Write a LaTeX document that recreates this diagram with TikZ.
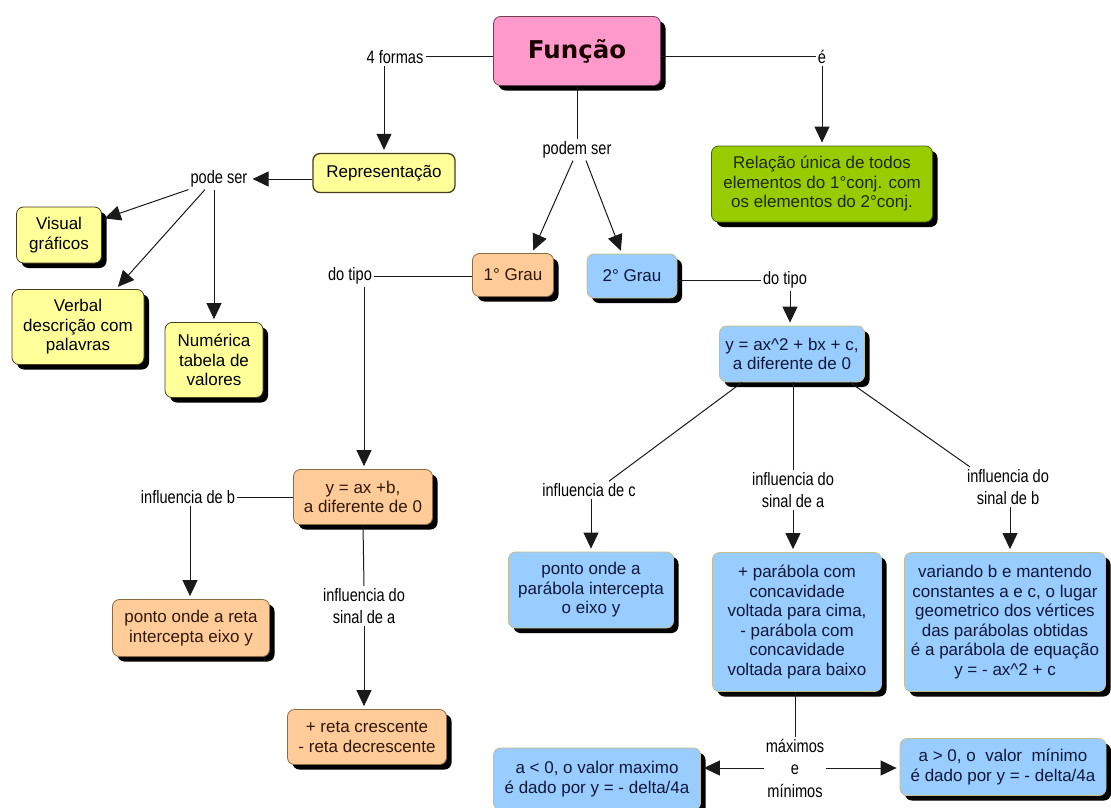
\documentclass[tikz,border=0pt]{standalone}
\usepackage{fontspec}
\setmainfont{Liberation Sans}
\newfontfamily\lblfont[FakeStretch=0.81]{Liberation Sans}
\newfontfamily\titlefont{DejaVu Sans}
\usetikzlibrary{arrows.meta,shadows}
\definecolor{yfill}{HTML}{FFFF99}
\definecolor{ydraw}{HTML}{4A3A20}
\definecolor{ofill}{HTML}{FFCC99}
\definecolor{odraw}{HTML}{8A6A40}
\definecolor{otext}{HTML}{301808}
\definecolor{bfill}{HTML}{99CCFF}
\definecolor{bdraw}{HTML}{C8BE8A}
\definecolor{btext}{HTML}{10183A}
\definecolor{gfill}{HTML}{99CC00}
\definecolor{gdraw}{HTML}{4A6000}
\definecolor{gtext}{HTML}{1E2A00}
\definecolor{pfill}{HTML}{FF99CC}
\definecolor{pdraw}{HTML}{704058}
\definecolor{linec}{HTML}{1A1A1A}
\tikzset{
  box/.style={rounded corners=7pt, align=center, inner sep=2pt, line width=0.8pt,
    font=\fontsize{17}{19.5}\selectfont},
  shad/.style={drop shadow={shadow xshift=5pt,shadow yshift=-5pt,fill=black,opacity=1}},
  ybox/.style={box, shad, fill=yfill, draw=ydraw, text=black},
  obox/.style={box, shad, fill=ofill, draw=odraw, text=otext},
  bbox/.style={box, shad, fill=bfill, draw=bdraw, text=btext},
  gbox/.style={box, shad, fill=gfill, draw=gdraw, text=gtext},
  lbl/.style={font=\lblfont\fontsize{18}{22.5}\selectfont, align=center, inner sep=2pt, text=black},
  con/.style={line width=1pt, draw=linec},
  arr/.style={con, -{Triangle[width=15pt,length=16pt]}, shorten >=3pt},
}
\begin{document}
\begin{tikzpicture}[x=1pt,y=-1pt]
\fill[white] (0,0) rectangle (1111,808);
\useasboundingbox (0,0) rectangle (1111,808);

% boxes
\node[box, shad, fill=pfill, draw=pdraw, minimum width=167pt, minimum height=69pt,
  font=\titlefont\bfseries\fontsize{24.5}{28}\selectfont, text=black!90!red] (fun) at (577,51) {Função};
\node[box, fill=yfill, draw=ydraw, line width=1.3pt, minimum width=142pt, minimum height=39pt] (rep) at (384,173) {Representação};
\node[gbox, minimum width=221pt, minimum height=76pt] (grn) at (822,184)
  {Relação única de todos\\elementos do 1°conj. com\\os elementos do 2°conj.};
\node[ybox, minimum width=85pt, minimum height=56pt] (vis) at (59,235) {Visual\\gráficos};
\node[ybox, minimum width=132pt, minimum height=75pt] (verb) at (78,327) {Verbal\\descrição com\\palavras};
\node[ybox, minimum width=98pt, minimum height=75pt] (num) at (214,360) {Numérica\\tabela de\\valores};
\node[obox, minimum width=81pt, minimum height=43pt] (g1) at (513,275) {1° Grau};
\node[bbox, minimum width=90pt, minimum height=44pt] (g2) at (632,276) {2° Grau};
\node[obox, minimum width=139pt, minimum height=55pt] (eq1) at (363,497) {y = ax +b,\\a diferente de 0};
\node[obox, minimum width=157pt, minimum height=57pt] (reta) at (191,628) {ponto onde a reta\\intercepta eixo y};
\node[obox, minimum width=159pt, minimum height=55pt] (cres) at (367,737) {+ reta crescente\\- reta decrescente};
\node[bbox, minimum width=145pt, minimum height=56pt] (eq2) at (792,354) {y = ax\textasciicircum 2 + bx + c,\\a diferente de 0};
\node[bbox, minimum width=165pt, minimum height=76pt] (pc) at (591,590) {ponto onde a\\parábola intercepta\\o eixo y};
\node[bbox, minimum width=169pt, minimum height=139pt] (pa) at (797,622)
  {+ parábola com\\concavidade\\voltada para cima,\\- parábola com\\concavidade\\voltada para baixo};
\node[bbox, minimum width=201pt, minimum height=139pt] (pb) at (1005,622)
  {variando b e mantendo\\constantes a e c, o lugar\\geometrico dos vértices\\das parábolas obtidas\\é a parábola de equação\\y = - ax\textasciicircum 2 + c};
\node[bbox, minimum width=207pt, minimum height=62pt] (bl) at (597,779) {a < 0, o valor maximo\\é dado por y = - delta/4a};
\node[bbox, minimum width=206pt, minimum height=57pt] (br) at (1003,767) {a > 0, o\ \ valor\ \ mínimo\\é dado por y = - delta/4a};

% labels
\node[lbl] (l4f) at (395,57) {4 formas};
\node[lbl] (le) at (822,57) {é};
\node[lbl] (lps) at (577,150) {podem ser};
\node[lbl] (lpode) at (219,179) {pode ser};
\node[lbl] (ldt1) at (350,276) {do tipo};
\node[lbl] (ldt2) at (785,280) {do tipo};
\node[lbl] (lib) at (188,497) {influencia de b};
\node[lbl] (lia1) at (364,606) {influencia do\\sinal de a};
\node[lbl] (lic) at (589,490) {influencia de c};
\node[lbl] (lia2) at (793,490) {influencia do\\sinal de a};
\node[lbl] (lsb) at (1008,487) {influencia do\\sinal de b};
\node[lbl] (lmm) at (795,768) {máximos\\e\\mínimos};

% connectors
\draw[con] (l4f.east) -- (l4f.east -| fun.west);
\draw[arr] (l4f.south -| rep.north) -- (rep.north);
\draw[con] (fun.east |- le.west) -- (le.west);
\draw[arr] (le.south) -- (le.south |- grn.north);
\draw[con] (fun.south) -- (lps.north);
\draw[arr] ([xshift=-4pt]lps.south) -- ([xshift=19pt]g1.north);
\draw[arr] ([xshift=9pt]lps.south) -- ([xshift=-10pt]g2.north);
\draw[arr] (rep.west |- lpode.east) -- (lpode.east);
\draw[arr] (lpode.south west) -- (vis.20);
\draw[arr] ([xshift=-14pt]lpode.south) -- (verb.45);
\draw[arr] (lpode.south -| num.north) -- (num.north);
\draw[con] (g1.west |- ldt1.east) -- (ldt1.east);
\draw[arr] ([xshift=14pt]ldt1.south) -- ([xshift=14pt]ldt1.south |- eq1.north);
\draw[con] (eq1.west) -- (lib.east);
\draw[arr] ([xshift=2pt]lib.south) -- ([xshift=2pt]lib.south |- reta.north);
\draw[con] (eq1.south) -- (lia1.north);
\draw[arr] (lia1.south) -- (lia1.south |- cres.north);
\draw[con] (g2.east |- ldt2.west) -- (ldt2.west);
\draw[arr] ([xshift=5pt]ldt2.south) -- ([xshift=5pt]ldt2.south |- eq2.north);
\draw[con] ([xshift=-50pt]eq2.south) -- ([xshift=20pt]lic.north);
\draw[arr] ([xshift=2pt]lic.south) -- ([xshift=2pt]lic.south |- pc.north);
\draw[con] ([xshift=1pt]eq2.south) -- (lia2.north);
\draw[arr] (lia2.south) -- (lia2.south |- pa.north);
\draw[con] ([xshift=58pt]eq2.south) -- ([xshift=-38pt]lsb.north);
\draw[arr] ([xshift=2pt]lsb.south) -- ([xshift=2pt]lsb.south |- pb.north);
\draw[con] ([xshift=-2pt]pa.south) -- (lmm.north);
\draw[arr] (lmm.west) -- (lmm.west -| bl.east);
\draw[arr] (lmm.east) -- (lmm.east -| br.west);
\end{tikzpicture}
\end{document}
